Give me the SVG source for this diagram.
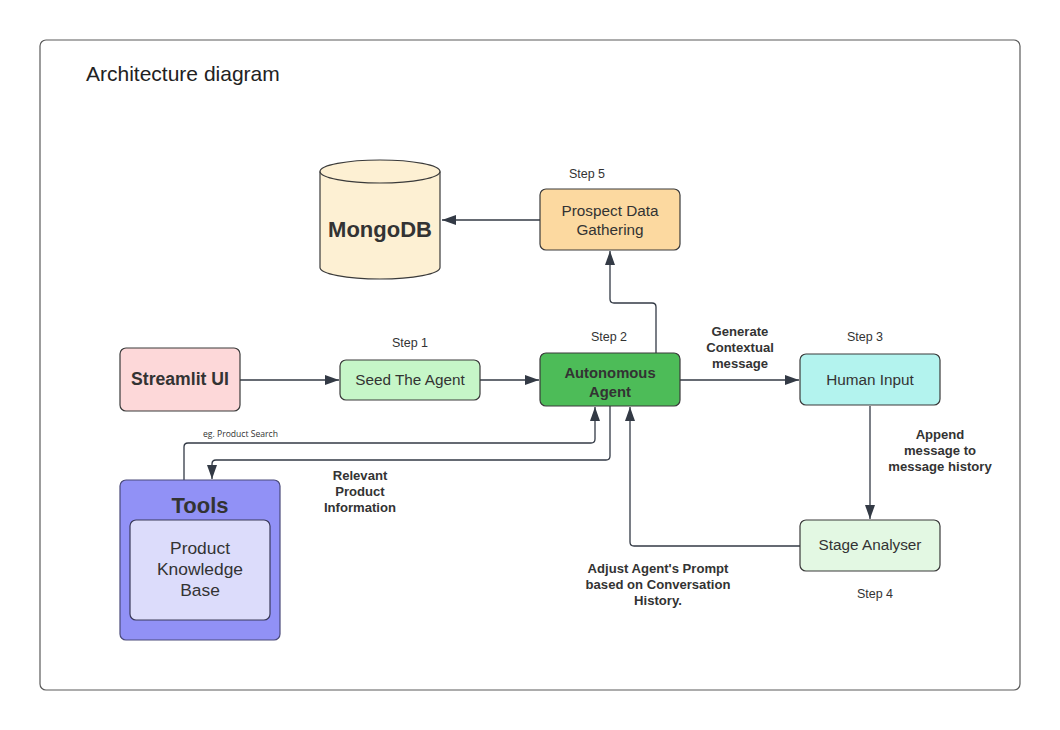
<svg xmlns="http://www.w3.org/2000/svg" width="1060" height="730" viewBox="0 0 1060 730">
<defs>
<marker id="ah" viewBox="0 0 14 10" refX="14" refY="5" markerWidth="14" markerHeight="10" markerUnits="userSpaceOnUse" orient="auto">
<path d="M0,0 L14,5 L0,10 Z" fill="#333a45"/>
</marker>
<style>
.frame{fill:#fff;stroke:#5a5a5a;stroke-width:1.2}
.box{stroke:#3a3a3a;stroke-width:1.2}
.t{font-family:"Liberation Sans",Arial,sans-serif;fill:#333;text-anchor:middle}
.n{font-size:15.3px}
.b{font-weight:bold}
.lbl{font-size:13.1px;font-weight:bold}
.step{font-size:12.5px}
.c{fill:none;stroke:#333a45;stroke-width:1.3;marker-end:url(#ah)}
</style>
</defs>
<rect x="0" y="0" width="1060" height="730" fill="#fff"/>
<rect class="frame" x="40" y="40" width="980" height="650" rx="6"/>
<text x="86" y="81" font-family="Liberation Sans,Arial,sans-serif" font-size="21" fill="#222">Architecture diagram</text>

<g id="connectors">
<path class="c" d="M240,380 H339"/>
<path class="c" d="M480,380 H539"/>
<path class="c" d="M680,380 H799"/>
<path class="c" d="M870,406 V519"/>
<path class="c" d="M800,546 H634 Q630,546 630,542 V407"/>
<path class="c" d="M540,220 H442"/>
<path class="c" d="M656,353 V307 Q656,303 652,303 H614 Q610,303 610,299 V251"/>
<path class="c" d="M184,480 V447 Q184,443 188,443 H591 Q595,443 595,439 V407"/>
<path class="c" d="M610,406 V456 Q610,460 606,460 H216 Q212,460 212,464 V479"/>
</g>

<g id="label-search"><text x="240.5" y="437" font-family="Open Sans,Liberation Sans,sans-serif" font-size="8.6" fill="#333" text-anchor="middle">eg. Product Search</text></g>
<g id="label-relevant">
<text class="t lbl" x="360" y="480">Relevant</text>
<text class="t lbl" x="360" y="496">Product</text>
<text class="t lbl" x="360" y="512">Information</text>
</g>
<g id="label-generate">
<text class="t lbl" x="740" y="336">Generate</text>
<text class="t lbl" x="740" y="352">Contextual</text>
<text class="t lbl" x="740" y="368">message</text>
</g>
<g id="label-append">
<text class="t lbl" x="940" y="439">Append</text>
<text class="t lbl" x="940" y="455">message to</text>
<text class="t lbl" x="940" y="471">message history</text>
</g>
<g id="label-adjust">
<text class="t lbl" x="658" y="573">Adjust Agent's Prompt</text>
<text class="t lbl" x="658" y="589">based on Conversation</text>
<text class="t lbl" x="658" y="605">History.</text>
</g>

<g id="mongodb">
<path class="box" fill="#fdf0d3" d="M320,171.5 V267.5 A60,11.5 0 0 0 440,267.5 V171.5 A60,11.5 0 0 0 320,171.5 Z"/>
<path fill="none" stroke="#3a3a3a" stroke-width="1.2" d="M320,171.5 A60,11.5 0 0 0 440,171.5"/>
<text class="t b" x="380" y="237" font-size="22">MongoDB</text>
</g>

<g id="prospect">
<rect class="box" x="540" y="189" width="140" height="61" rx="6" fill="#fcd9a0"/>
<text class="t n" x="610" y="216">Prospect Data</text>
<text class="t n" x="610" y="235">Gathering</text>
<text class="t step" x="587" y="178">Step 5</text>
</g>

<g id="streamlit">
<rect class="box" x="120" y="348" width="120" height="63" rx="6" fill="#fdd8d9"/>
<text class="t b" x="180" y="385" font-size="17.6">Streamlit UI</text>
</g>

<g id="seed">
<rect class="box" x="340" y="360" width="140" height="40" rx="6" fill="#c6f6c8"/>
<text class="t n" x="410" y="385">Seed The Agent</text>
<text class="t step" x="410" y="347">Step 1</text>
</g>

<g id="agent">
<rect class="box" x="540" y="353" width="140" height="53" rx="6" fill="#4dbc58"/>
<text class="t b" x="610" y="378" font-size="14.8">Autonomous</text>
<text class="t b" x="610" y="397" font-size="14.8">Agent</text>
<text class="t step" x="609" y="341">Step 2</text>
</g>

<g id="human">
<rect class="box" x="800" y="354" width="140" height="51" rx="6" fill="#b3f3ee"/>
<text class="t n" x="870" y="385">Human Input</text>
<text class="t step" x="865" y="341">Step 3</text>
</g>

<g id="stage">
<rect class="box" x="800" y="520" width="140" height="51" rx="6" fill="#e3f8e3"/>
<text class="t n" x="870" y="550">Stage Analyser</text>
<text class="t step" x="875" y="598">Step 4</text>
</g>

<g id="tools">
<rect x="120" y="480" width="160" height="160" rx="6" fill="#9191f6" stroke="#4a4a7a" stroke-width="1.2"/>
<text class="t b" x="200" y="513" font-size="22" fill="#333a55">Tools</text>
<rect x="130" y="520" width="140" height="100" rx="6" fill="#dcdcfb" stroke="#3a3a5a" stroke-width="1.2"/>
<text class="t" x="200" y="554" font-size="17.4">Product</text>
<text class="t" x="200" y="575" font-size="17.4">Knowledge</text>
<text class="t" x="200" y="596" font-size="17.4">Base</text>
</g>
</svg>
